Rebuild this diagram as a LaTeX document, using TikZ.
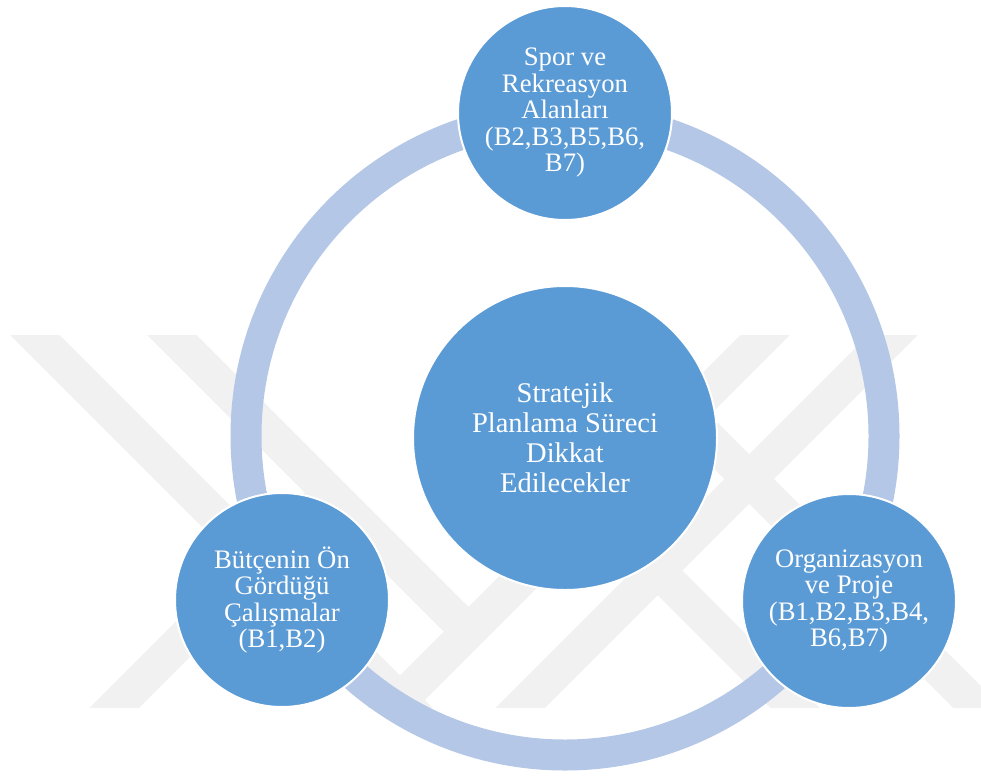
\documentclass[tikz,border=0pt]{standalone}
\usepackage{fontspec}
\setmainfont{Liberation Serif}
\definecolor{circblue}{HTML}{5B9BD5}
\definecolor{ringblue}{HTML}{B4C7E7}
\definecolor{wmgray}{HTML}{F1F1F1}
\begin{document}
\begin{tikzpicture}[x=1pt,y=-1pt,
  bigc/.style={circle, fill=circblue, draw=white, line width=2pt, minimum size=304pt, inner sep=0pt, text=white, align=center, font=\fontsize{28.5}{30}\selectfont},
  smallc/.style={circle, fill=circblue, draw=white, line width=2pt, minimum size=214pt, inner sep=0pt, text=white, align=center, font=\fontsize{26.7}{26.5}\selectfont},
  ringline/.style={draw=ringblue, line width=31pt},
  wmband/.style={draw=wmgray, line width=35pt}]
\useasboundingbox (0,0) rectangle (981,776);
% watermark
\begin{scope}
\clip (0,335) rectangle (981,707);
\draw[wmband] (0,300) -- (442,742);
\draw[wmband] (137,300) -- (468,631);
\draw[wmband] (80,742) -- (329,493);
\draw[wmband] (800,300) -- (358,742);
\draw[wmband] (928,300) -- (486,742);
\draw[wmband] (657.5,570.5) -- (829,742);
\draw[wmband] (570,300) -- (1012,742);
\end{scope}
% ring
\coordinate (O) at (565,436);
\draw[ringline] (O) circle[radius=319pt];
% circles
\node[bigc] (center) at (565,438) {Stratejik\\Planlama Süreci\\Dikkat\\Edilecekler};
\node[smallc] (top) at (565,113) {Spor ve\\Rekreasyon\\Alanları\\(B2,B3,B5,B6,\\B7)};
\node[smallc] (left) at (282,600) {Bütçenin Ön\\Gördüğü\\Çalışmalar\\(B1,B2)};
\node[smallc] (right) at (849,601) {Organizasyon\\ve Proje\\(B1,B2,B3,B4,\\B6,B7)};
\end{tikzpicture}
\end{document}
